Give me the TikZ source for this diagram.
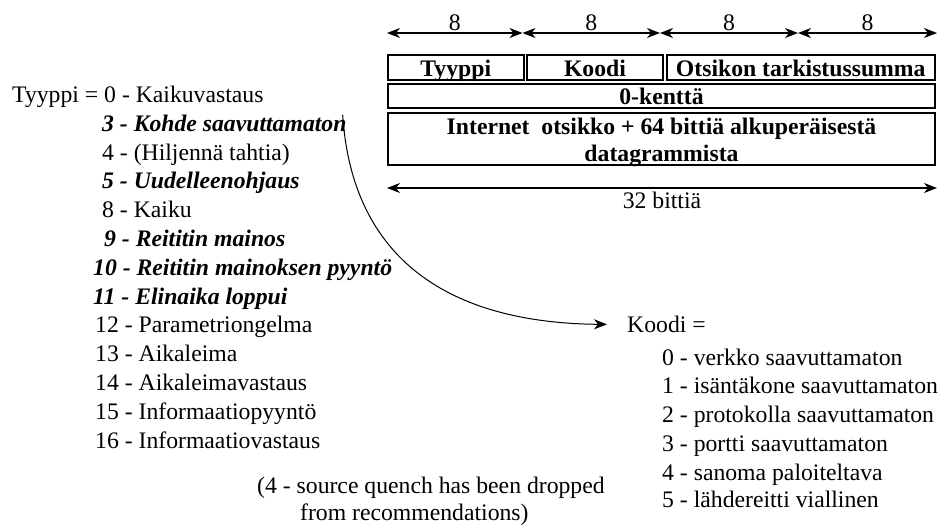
\documentclass[tikz,border=0pt]{standalone}
\usepackage{fontspec}
\setmainfont{Liberation Serif}
\usetikzlibrary{shapes,arrows.meta,positioning,calc}

\tikzset{
  cell/.style={draw, line width=2pt, inner sep=0pt, font=\fontsize{23.7}{27}\selectfont\bfseries},
  celltext/.style={inner sep=0pt, text height=17pt, text depth=5pt, font=\fontsize{23.7}{27}\selectfont\bfseries},
  item/.style={anchor=base west, inner sep=0pt, font=\fontsize{23.7}{28.8}\selectfont},
  hotitem/.style={item, font=\fontsize{23.7}{28.8}\selectfont\bfseries\itshape},
  mitta/.style={<->, line width=1.2pt}
}

\begin{document}
\begin{tikzpicture}[x=1pt, y=-1pt, >={Stealth[length=13pt, width=10pt, inset=4pt]}]
    \useasboundingbox (0,0) rectangle (943,525);

    % otsikon kentat
    \node (tyyppi) [cell, minimum width=135.5pt, minimum height=25pt, text height=21pt, text depth=4pt] at (455.75,67.5) {Tyyppi};
    \node (koodi) [cell, minimum width=136pt, minimum height=25pt, text height=21pt, text depth=4pt] at (595,67.5) {Koodi};
    \node (tark) [cell, minimum width=268.5pt, minimum height=25pt, text height=21pt, text depth=4pt] at (800.75,67.5) {Otsikon tarkistussumma};
    \node (nolla) [cell, minimum width=547pt, minimum height=24pt, text height=20pt, text depth=4pt] at (661.5,96) {0-kenttä};
    \node (inet) [cell, minimum width=547pt, minimum height=52pt] at (661.5,139) {};
    \node (inet1) [celltext] at (661.5,128) {Internet\ \ otsikko + 64 bittiä alkuperäisestä};
    \node (inet2) [celltext, below=5pt of inet1] {datagrammista};

    % bittimitat
    \coordinate (b0) at (387,33);
    \coordinate (b1) at (522.5,33);
    \coordinate (b2) at (660,33);
    \coordinate (b3) at (798,33);
    \coordinate (b4) at (937,33);
    \foreach \a/\b in {b0/b1, b1/b2, b2/b3, b3/b4}
        \draw [mitta] (\a) -- node [above, inner sep=1.5pt, font=\fontsize{23.7}{28}\selectfont] {8} (\b);
    \coordinate (c0) at (387,188);
    \coordinate (c1) at (937,188);
    \draw [mitta] (c0) -- node [below, inner sep=3pt, font=\fontsize{23.7}{28}\selectfont] {32 bittiä} (c1);

    % tyypit
    \node (t0) [item] at (12,102.5) {Tyyppi = 0 - Kaikuvastaus};
    \node (t3) [hotitem] at (102,131.3) {3 - Kohde saavuttamaton};
    \node (t4) [item] at (102,160.1) {4 - (Hiljennä tahtia)};
    \node (t5) [hotitem] at (102,188.9) {5 - Uudelleenohjaus};
    \node (t8) [item] at (102,217.7) {8 - Kaiku};
    \node (t9) [hotitem] at (104,246.5) {9 - Reititin mainos};
    \node (t10) [hotitem] at (93,275.3) {10 - Reititin mainoksen pyyntö};
    \node (t11) [hotitem] at (93,304.1) {11 - Elinaika loppui};
    \node (t12) [item] at (95,332.9) {12 - Parametriongelma};
    \node (t13) [item] at (95,361.7) {13 - Aikaleima};
    \node (t14) [item] at (95,390.5) {14 - Aikaleimavastaus};
    \node (t15) [item] at (95,419.3) {15 - Informaatiopyyntö};
    \node (t16) [item] at (95,448.1) {16 - Informaatiovastaus};

    \node (huom1) [item] at (257,493) {(4 - source quench has been dropped};
    \node (huom2) [item] at (300,520) {from recommendations)};

    % koodit
    \node (kood) [item] at (627,332.5) {Koodi =};
    \node (k0) [item] at (662,365) {0 - verkko saavuttamaton};
    \node (k1) [item] at (662,393.5) {1 - isäntäkone saavuttamaton};
    \node (k2) [item] at (662,422.5) {2 - protokolla saavuttamaton};
    \node (k3) [item] at (662,451) {3 - portti saavuttamaton};
    \node (k4) [item] at (662,480) {4 - sanoma paloiteltava};
    \node (k5) [item] at (662,507) {5 - lähdereitti viallinen};

    \coordinate (kaari) at ([xshift=-4pt]t3.north east);
    \draw [->, line width=1pt] (kaari) .. controls (352,260) and (450,323) .. ([xshift=-20pt]kood.west);
\end{tikzpicture}
\end{document}
